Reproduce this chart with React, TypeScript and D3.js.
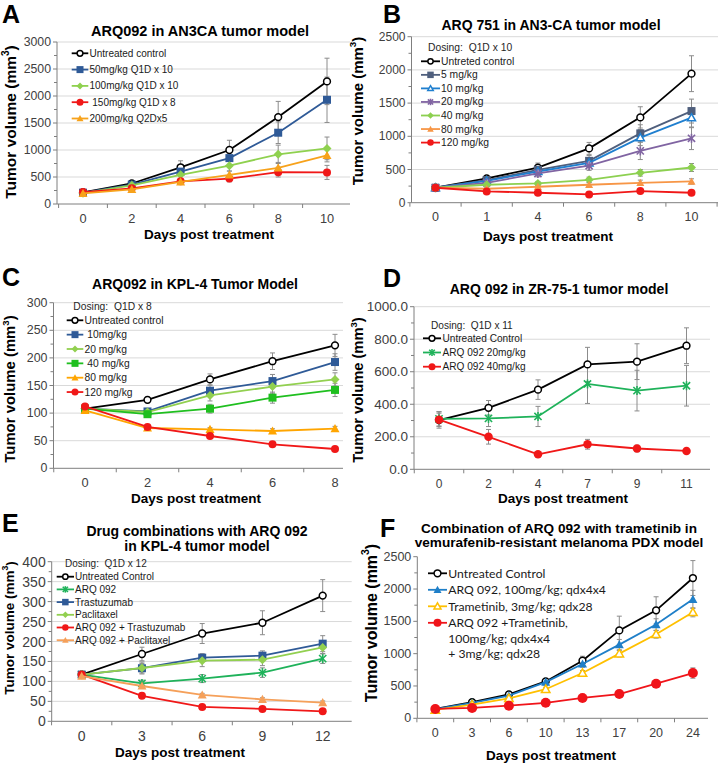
import React from "react";
import * as d3 from "d3";

// ---------------- DATA ----------------
// Panel A
const daysA = ["0", "2", "4", "6", "8", "10"];
const aUntreated = [215, 380, 680, 1000, 1610, 2270];
const aUntreatedErr = [20, 30, 120, 180, 290, 430];
const a50 = [210, 360, 600, 850, 1320, 1930];
const a50Err = [20, 30, 80, 130, 200, 420];
const a100 = [200, 345, 540, 710, 920, 1030];
const a100Err = [15, 30, 70, 100, 170, 210];
const a150 = [220, 290, 420, 470, 590, 585];
const a150Err = [20, 30, 50, 60, 90, 130];
const a200 = [195, 270, 410, 540, 670, 900];
const a200Err = [15, 25, 50, 70, 100, 120];
const legendA = ["Untreated control", "50mg/kg Q1D x 10", "100mg/kg Q1D x 10", " 150mg/kg Q1D x 8", "200mg/kg Q2Dx5"];

// Panel B
const daysB = ["0", "1", "4", "6", "8", "10"];
const bUntreated = [225, 366, 527, 818, 1285, 1943];
const bUntreatedErr = [30, 30, 70, 90, 160, 270];
const b5 = [225, 341, 495, 630, 1044, 1380];
const b5Err = [30, 30, 60, 80, 130, 180];
const b10 = [225, 330, 470, 600, 980, 1280];
const b10Err = [30, 30, 50, 70, 120, 150];
const b20 = [225, 300, 440, 557, 780, 970];
const b20Err = [30, 30, 50, 70, 130, 170];
const b40 = [225, 270, 290, 345, 450, 530];
const b40Err = [20, 20, 30, 40, 50, 60];
const b80 = [225, 210, 240, 270, 300, 320];
const b80Err = [20, 20, 20, 30, 40, 40];
const b120 = [225, 170, 150, 125, 175, 150];
const b120Err = [20, 15, 15, 15, 20, 20];
const legendB = ["Untreted control", "5 mg/kg", "10 mg/kg", "20 mg/kg", "40 mg/kg", "80 mg/kg", "120 mg/kg"];

// Panel C
const daysC = ["0", "2", "4", "6", "8"];
const cUntreated = [108, 124, 161, 194, 222.7];
const cUntreatedErr = [5, 5, 10, 15, 20];
const c10 = [108, 103, 140.6, 158, 192.5];
const c10Err = [5, 5, 10, 12, 15];
const c20 = [108, 102, 132, 148, 161];
const c20Err = [5, 5, 10, 12, 12];
const c40 = [108, 98, 108, 128, 142];
const c40Err = [5, 5, 8, 10, 12];
const c80 = [105, 73, 70.6, 67.6, 72];
const c80Err = [4, 3, 3, 4, 4];
const c120 = [112, 75, 58.5, 43.5, 35];
const c120Err = [4, 3, 3, 3, 3];
const legendC = ["Untreated control", " 10mg/kg", "20 mg/kg", " 40 mg/kg", "80 mg/kg", "120 mg/kg"];

// Panel D
const daysD = ["0", "2", "4", "7", "9", "11"];
const dUntreated = [303, 378, 490, 645, 662, 760];
const dUntreatedErr = [50, 45, 60, 105, 110, 110];
const d20 = [310, 313, 325, 525, 484, 514];
const d20Err = [45, 50, 62, 120, 125, 125];
const d40 = [305, 200, 92, 154, 128, 113];
const d40Err = [40, 45, 8, 30, 20, 15];
const legendD = ["Untreated Control", "ARQ 092 20mg/kg", "ARQ 092 40mg/kg"];

// Panel E
const daysE = ["0", "3", "6", "9", "12"];
const eUntreated = [117, 168.7, 220, 247, 315];
const eUntreatedErr = [5, 17, 25, 30, 40];
const eArq = [117, 95, 107, 122, 157];
const eArqErr = [5, 8, 10, 12, 12];
const eTrast = [117, 133, 159.5, 164.5, 194.6];
const eTrastErr = [5, 12, 10, 12, 20];
const ePacl = [117, 133.6, 152, 154.5, 185];
const ePaclErr = [5, 15, 15, 15, 15];
const eArqTrast = [117, 64, 36, 31, 25];
const eArqTrastErr = [3, 3, 3, 3, 3];
const eArqPacl = [113, 88.5, 66, 55, 47];
const eArqPaclErr = [3, 4, 4, 4, 4];
const legendE = ["Untreated Control", "ARQ 092", "Trastuzumab", "Paclitaxel", "ARQ 092 + Trastuzumab", "ARQ 092 + Paclitaxel"];

// Panel F
const daysF = ["0", "3", "6", "10", "13", "17", "20", "24"];
const fUntreated = [145, 250, 370, 570, 890, 1360, 1670, 2170];
const fUntreatedErr = [10, 20, 30, 40, 70, 220, 210, 270];
const fArq = [140, 240, 350, 560, 840, 1140, 1450, 1840];
const fArqErr = [10, 20, 30, 40, 50, 80, 90, 140];
const fTram = [130, 210, 310, 450, 700, 1000, 1300, 1640];
const fTramErr = [10, 20, 25, 30, 40, 50, 60, 70];
const fCombo = [145, 160, 195, 240, 315, 375, 535, 700];
const fComboErr = [10, 15, 20, 20, 25, 30, 40, 80];
const legendF = [
  "Untreated Control",
  "ARQ 092, 100mg/kg; qdx4x4",
  "Trametinib, 3mg/kg; qdx28",
  "ARQ 092 +Trametinib,\n100mg/kg; qdx4x4\n+ 3mg/kg; qdx28",
];

// ---------------- STYLE / LAYOUT ----------------
const FONT = "'Liberation Sans', Arial, Helvetica, sans-serif";
const BLACK = "#000000";

type MarkerType = "circleOpen" | "circle" | "square" | "diamond" | "triangle" | "triangleOpen" | "asterisk";

interface Series {
  name: string;
  values: number[];
  errors: number[];
  color: string;
  marker: MarkerType;
  size: number;
}

interface Panel {
  letter: string;
  letterX: number;
  letterY: number;
  title: string[];
  titleX: number;
  titleY: number;
  titleSize: number;
  titleGap: number;
  cats: string[];
  yMax: number;
  yStep: number;
  yFmt: (v: number) => string;
  axisX: number;
  c0: number;
  step: number;
  xEnd: number;
  yTop: number;
  yBottom: number;
  grid: boolean;
  series: Series[];
  header?: string;
  headerX?: number;
  headerY?: number;
  lx0: number;
  lx1: number;
  tx: number;
  ly0: number;
  ldy: number;
  lineDy?: number;
  lFont: number;
  lFamily?: string;
  lMarker: number;
  yLabX: number;
  yLabY: number;
  yLabSize: number;
  xLabX: number;
  xLabY: number;
  xLabSize: number;
  yTickSize: number;
  xTickSize: number;
}

function mk(name: string, values: number[], errors: number[], color: string, marker: MarkerType, size = 8): Series {
  return { name, values, errors, color, marker, size };
}

const fmtInt = (v: number) => d3.format("d")(v);
const fmt1 = (v: number) => d3.format(".1f")(v);

const panels: Panel[] = [
  {
    letter: "A", letterX: 2, letterY: 22.5,
    title: ["ARQ092 in AN3CA tumor model"], titleX: 200, titleY: 31, titleSize: 14.5, titleGap: 15,
    cats: daysA, yMax: 3000, yStep: 500, yFmt: fmtInt,
    axisX: 57, c0: 83, step: 48.8, xEnd: 350, yTop: 42, yBottom: 204, grid: true,
    series: [
      mk(legendA[0], aUntreated, aUntreatedErr, BLACK, "circleOpen", 8),
      mk(legendA[1], a50, a50Err, "#2f5a97", "square", 8),
      mk(legendA[2], a100, a100Err, "#8fd14f", "diamond", 9),
      mk(legendA[3], a150, a150Err, "#f01818", "circle", 8),
      mk(legendA[4], a200, a200Err, "#f7a21b", "triangle", 9),
    ],
    lx0: 71.7, lx1: 88.3, tx: 89.5, ly0: 53.3, ldy: 16.3, lFont: 10, lMarker: 7,
    yLabX: 10, yLabY: 122, yLabSize: 15.5, xLabX: 209, xLabY: 234, xLabSize: 13.5, yTickSize: 12.3, xTickSize: 12.8,
  },
  {
    letter: "B", letterX: 383, letterY: 22.5,
    title: ["ARQ 751 in AN3-CA tumor model"], titleX: 551, titleY: 25, titleSize: 14, titleGap: 15,
    cats: daysB, yMax: 2500, yStep: 500, yFmt: fmtInt,
    axisX: 411.5, c0: 435.5, step: 51.2, xEnd: 718, yTop: 36.7, yBottom: 202.7, grid: true,
    series: [
      mk(legendB[0], bUntreated, bUntreatedErr, BLACK, "circleOpen", 8),
      mk(legendB[1], b5, b5Err, "#4f5f7d", "square", 8),
      mk(legendB[2], b10, b10Err, "#1f7fcf", "triangleOpen", 9),
      mk(legendB[3], b20, b20Err, "#8064a2", "asterisk", 9),
      mk(legendB[4], b40, b40Err, "#8cd050", "diamond", 9),
      mk(legendB[5], b80, b80Err, "#f79646", "triangle", 8),
      mk(legendB[6], b120, b120Err, "#f01818", "circle", 8),
    ],
    header: "Dosing:  Q1D x 10", headerX: 428, headerY: 47.7,
    lx0: 421, lx1: 440, tx: 441, ly0: 61.3, ldy: 13.55, lFont: 10.3, lMarker: 6.5,
    yLabX: 357, yLabY: 111, yLabSize: 15, xLabX: 548, xLabY: 236.7, xLabSize: 13.5, yTickSize: 12, xTickSize: 12.5,
  },
  {
    letter: "C", letterX: 2, letterY: 286,
    title: ["ARQ092 in KPL-4 Tumor Model"], titleX: 195, titleY: 284.3, titleSize: 14, titleGap: 15,
    cats: daysC, yMax: 300, yStep: 50, yFmt: fmtInt,
    axisX: 53.5, c0: 85, step: 62.5, xEnd: 343, yTop: 302.7, yBottom: 468.3, grid: true,
    series: [
      mk(legendC[0], cUntreated, cUntreatedErr, BLACK, "circleOpen", 8),
      mk(legendC[1], c10, c10Err, "#2f5a97", "square", 8),
      mk(legendC[2], c20, c20Err, "#92d050", "diamond", 9),
      mk(legendC[3], c40, c40Err, "#1fbf1f", "square", 8),
      mk(legendC[4], c80, c80Err, "#ffa500", "triangle", 9),
      mk(legendC[5], c120, c120Err, "#f01818", "circle", 8),
    ],
    header: "Dosing:  Q1D x 8", headerX: 73.3, headerY: 306,
    lx0: 66.7, lx1: 83.3, tx: 84.5, ly0: 320.3, ldy: 14.35, lFont: 10.3, lMarker: 7,
    yLabX: 10, yLabY: 389, yLabSize: 14.9, xLabX: 196, xLabY: 498, xLabSize: 13.5, yTickSize: 12.4, xTickSize: 12.8,
  },
  {
    letter: "D", letterX: 383, letterY: 287,
    title: ["ARQ 092 in ZR-75-1 tumor model"], titleX: 559, titleY: 289, titleSize: 14, titleGap: 15,
    cats: daysD, yMax: 1000, yStep: 200, yFmt: fmt1,
    axisX: 414, c0: 439, step: 49.5, xEnd: 710, yTop: 306.7, yBottom: 469.3, grid: true,
    series: [
      mk(legendD[0], dUntreated, dUntreatedErr, BLACK, "circleOpen", 8),
      mk(legendD[1], d20, d20Err, "#1fb25a", "asterisk", 9),
      mk(legendD[2], d40, d40Err, "#f01818", "circle", 8.5),
    ],
    header: "Dosing:  Q1D x 11", headerX: 431, headerY: 325,
    lx0: 423, lx1: 441, tx: 442.5, ly0: 338.3, ldy: 14.2, lFont: 10.1, lMarker: 7,
    yLabX: 358, yLabY: 390, yLabSize: 14.7, xLabX: 563, xLabY: 498, xLabSize: 13.5, yTickSize: 13.5, xTickSize: 12,
  },
  {
    letter: "E", letterX: 2, letterY: 532,
    title: ["Drug combinations with ARQ 092", "in KPL-4 tumor model"], titleX: 197, titleY: 530.7, titleSize: 14, titleGap: 15.3,
    cats: daysE, yMax: 400, yStep: 50, yFmt: fmtInt,
    axisX: 51.7, c0: 81.7, step: 60.25, xEnd: 351.7, yTop: 561.7, yBottom: 721.3, grid: true,
    series: [
      mk(legendE[0], eUntreated, eUntreatedErr, BLACK, "circleOpen", 8),
      mk(legendE[1], eArq, eArqErr, "#1fb25a", "asterisk", 9),
      mk(legendE[2], eTrast, eTrastErr, "#2f5a97", "square", 8),
      mk(legendE[3], ePacl, ePaclErr, "#92d050", "diamond", 9),
      mk(legendE[4], eArqTrast, eArqTrastErr, "#f01818", "circle", 8),
      mk(legendE[5], eArqPacl, eArqPaclErr, "#f5a05a", "triangle", 9),
    ],
    header: "Dosing:  Q1D x 12", headerX: 65, headerY: 563.3,
    lx0: 56.7, lx1: 74, tx: 75, ly0: 576.7, ldy: 12.7, lFont: 10, lMarker: 6.5,
    yLabX: 9.5, yLabY: 628, yLabSize: 13.5, xLabX: 180, xLabY: 752.7, xLabSize: 13.5, yTickSize: 14, xTickSize: 14,
  },
  {
    letter: "F", letterX: 380, letterY: 537,
    title: ["Combination of ARQ 092 with trametinib in", "vemurafenib-resistant melanoma PDX model"], titleX: 559, titleY: 528.8, titleSize: 13.6, titleGap: 13.8,
    cats: daysF, yMax: 2500, yStep: 500, yFmt: fmtInt,
    axisX: 417.3, c0: 435.3, step: 36.8, xEnd: 708, yTop: 556.7, yBottom: 718.3, grid: false,
    series: [
      mk("Untreated Control", fUntreated, fUntreatedErr, BLACK, "circleOpen", 8),
      mk(legendF[1], fArq, fArqErr, "#1f7fc8", "triangle", 9),
      mk(legendF[2], fTram, fTramErr, "#ffc000", "triangleOpen", 9.5),
      mk(legendF[3], fCombo, fComboErr, "#f0141a", "circle", 10),
    ],
    lx0: 428, lx1: 447, tx: 448.3, ly0: 573.3, ldy: 16.5, lineDy: 15.3, lFont: 12.2, lFamily: "Lato, 'Liberation Sans', sans-serif", lMarker: 8,
    yLabX: 371, yLabY: 623, yLabSize: 16, xLabX: 551, xLabY: 755, xLabSize: 13.5, yTickSize: 12.5, xTickSize: 12.5,
  },
];

// ---------------- RENDERING ----------------
function Marker({ type, x, y, size, color }: { type: MarkerType; x: number; y: number; size: number; color: string }) {
  const s = size;
  const h = s / 2;
  switch (type) {
    case "circleOpen":
      return <circle cx={x} cy={y} r={h - 0.6} fill="#fff" stroke={color} strokeWidth={1.5} />;
    case "circle":
      return <circle cx={x} cy={y} r={h} fill={color} />;
    case "square":
      return <rect x={x - h} y={y - h} width={s} height={s} fill={color} />;
    case "diamond":
      return <path d={`M${x},${y - h}L${x + h},${y}L${x},${y + h}L${x - h},${y}Z`} fill={color} />;
    case "triangle":
      return <path d={`M${x},${y - h}L${x + h},${y + h * 0.8}L${x - h},${y + h * 0.8}Z`} fill={color} />;
    case "triangleOpen":
      return (
        <path
          d={`M${x},${y - h + 0.5}L${x + h - 0.5},${y + h * 0.8 - 0.5}L${x - h + 0.5},${y + h * 0.8 - 0.5}Z`}
          fill="#fff"
          stroke={color}
          strokeWidth={1.5}
        />
      );
    case "asterisk": {
      const a = h * 0.8;
      return (
        <g stroke={color} strokeWidth={1.6}>
          <line x1={x - a} y1={y - a} x2={x + a} y2={y + a} />
          <line x1={x - a} y1={y + a} x2={x + a} y2={y - a} />
          <line x1={x} y1={y - h} x2={x} y2={y + h} />
        </g>
      );
    }
  }
  return null;
}

function PanelView({ p }: { p: Panel }) {
  const n = p.cats.length;
  const x = d3
    .scalePoint<string>()
    .domain(p.cats)
    .range([p.c0, p.c0 + p.step * (n - 1)]);
  const y = d3.scaleLinear().domain([0, p.yMax]).range([p.yBottom, p.yTop]);
  const majors = d3.range(0, p.yMax + p.yStep / 2, p.yStep);
  const minors = d3.range(p.yStep / 2, p.yMax, p.yStep);
  const bounds = d3.range(0, n + 1).map((k) => p.c0 - p.step / 2 + k * p.step).filter((b) => b <= p.xEnd + 0.5);
  const line = d3
    .line<number>()
    .x((_, i) => x(p.cats[i]) as number)
    .y((v) => y(v));
  const axisColor = "#7f7f7f";

  return (
    <g>
      {p.grid &&
        majors
          .filter((v) => v > 0)
          .map((v) => (
            <line key={"g" + v} x1={p.axisX} x2={p.xEnd} y1={y(v)} y2={y(v)} stroke="#d9d9d9" strokeWidth={1} />
          ))}
      <line x1={p.axisX} x2={p.axisX} y1={p.yTop} y2={p.yBottom} stroke={axisColor} strokeWidth={1} />
      <line x1={p.axisX} x2={p.xEnd} y1={p.yBottom} y2={p.yBottom} stroke={axisColor} strokeWidth={1} />
      {majors.map((v) => (
        <line key={"t" + v} x1={p.axisX - 4} x2={p.axisX} y1={y(v)} y2={y(v)} stroke={axisColor} />
      ))}
      {minors.map((v) => (
        <line key={"m" + v} x1={p.axisX - 3} x2={p.axisX} y1={y(v)} y2={y(v)} stroke={axisColor} />
      ))}
      {bounds.map((b, i) => (
        <line key={"b" + i} x1={b} x2={b} y1={p.yBottom} y2={p.yBottom + 4} stroke={axisColor} />
      ))}
      {majors.map((v) => (
        <text
          key={"l" + v}
          x={p.axisX - 6}
          y={y(v)}
          textAnchor="end"
          dominantBaseline="central"
          fontSize={p.yTickSize}
          fill="#404040"
        >
          {p.yFmt(v)}
        </text>
      ))}
      {p.cats.map((c) => (
        <text
          key={"c" + c}
          x={x(c)}
          y={p.yBottom + 14.5}
          textAnchor="middle"
          dominantBaseline="central"
          fontSize={p.xTickSize}
          fill="#404040"
        >
          {c}
        </text>
      ))}

      {p.series.map((s, si) =>
        s.values.map((v, i) => {
          const e = s.errors[i];
          if (!e) return null;
          const cx = x(p.cats[i]) as number;
          const y1 = y(v + e);
          const y2 = y(Math.max(0, v - e));
          return (
            <g key={`e${si}-${i}`} stroke="#8c8c8c" strokeWidth={1}>
              <line x1={cx} x2={cx} y1={y1} y2={y2} />
              <line x1={cx - 2.5} x2={cx + 2.5} y1={y1} y2={y1} />
              <line x1={cx - 2.5} x2={cx + 2.5} y1={y2} y2={y2} />
            </g>
          );
        })
      )}
      {p.series.map((s, si) => (
        <g key={"s" + si}>
          <path d={line(s.values) || ""} fill="none" stroke={s.color} strokeWidth={1.8} />
          {s.values.map((v, i) => (
            <Marker key={i} type={s.marker} x={x(p.cats[i]) as number} y={y(v)} size={s.size} color={s.color} />
          ))}
        </g>
      ))}

      {p.header && (
        <text x={p.headerX} y={p.headerY} dominantBaseline="central" fontSize={p.lFont} fill="#262626" style={{ whiteSpace: "pre" }}>
          {p.header}
        </text>
      )}
      {p.series.map((s, si) => {
        const ly = p.ly0 + si * p.ldy;
        const lines = s.name.split("\n");
        return (
          <g key={"lg" + si}>
            <line x1={p.lx0} x2={p.lx1} y1={ly} y2={ly} stroke={s.color} strokeWidth={1.8} />
            <Marker type={s.marker} x={(p.lx0 + p.lx1) / 2} y={ly} size={p.lMarker} color={s.color} />
            {lines.map((t, li) => (
              <text
                key={li}
                x={p.tx}
                y={ly + li * (p.lineDy || p.ldy)}
                dominantBaseline="central"
                fontSize={p.lFont}
                fontFamily={p.lFamily || FONT}
                fill="#1a1a1a"
                style={{ whiteSpace: "pre" }}
              >
                {t}
              </text>
            ))}
          </g>
        );
      })}

      {p.title.map((t, i) => (
        <text
          key={"ti" + i}
          x={p.titleX}
          y={p.titleY + i * p.titleGap}
          textAnchor="middle"
          dominantBaseline="central"
          fontSize={p.titleSize}
          fontWeight="bold"
          fill="#000"
        >
          {t}
        </text>
      ))}
      <text x={p.letterX} y={p.letterY} fontSize={25} fontWeight="bold" fill="#000">
        {p.letter}
      </text>
      <text
        transform={`translate(${p.yLabX},${p.yLabY}) rotate(-90)`}
        textAnchor="middle"
        dominantBaseline="central"
        fontSize={p.yLabSize}
        fontWeight="bold"
        fill="#000"
      >
        Tumor volume (mm
        <tspan fontSize={p.yLabSize * 0.65} dy={-p.yLabSize * 0.35}>
          3
        </tspan>
        <tspan dy={p.yLabSize * 0.35}>)</tspan>
      </text>
      <text
        x={p.xLabX}
        y={p.xLabY}
        textAnchor="middle"
        dominantBaseline="central"
        fontSize={p.xLabSize}
        fontWeight="bold"
        fill="#000"
      >
        Days post treatment
      </text>
    </g>
  );
}

export default function App() {
  return (
    <svg
      width={718}
      height={763}
      viewBox="0 0 718 763"
      style={{ position: "absolute", left: 0, top: 0, background: "#fff" }}
      fontFamily={FONT}
    >
      <rect x={0} y={0} width={718} height={763} fill="#fff" />
      {panels.map((p) => (
        <PanelView key={p.letter} p={p} />
      ))}
    </svg>
  );
}
